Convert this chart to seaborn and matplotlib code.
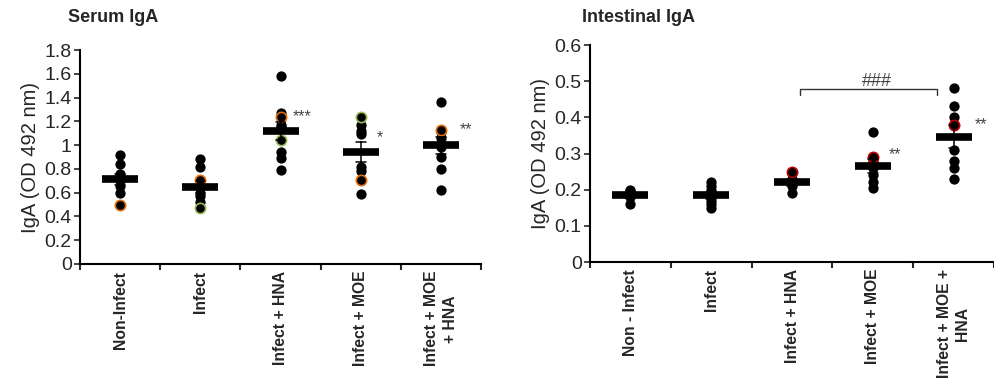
import numpy as np
import pandas as pd
import matplotlib
matplotlib.use("Agg")
import matplotlib.pyplot as plt
import seaborn as sns
from matplotlib.ticker import FuncFormatter, FixedLocator

sns.set_style("ticks")
plt.rcParams["font.family"] = ["Liberation Sans", "DejaVu Sans"]

# ---------------- data ----------------
serum_groups = ["Non-Infect", "Infect", "Infect + HNA", "Infect + MOE", "Infect + MOE\n+ HNA"]
serum_values = [
    [0.92, 0.84, 0.76, 0.72, 0.70, 0.66, 0.60, 0.50],
    [0.88, 0.82, 0.71, 0.64, 0.60, 0.57, 0.52, 0.47],
    [1.58, 1.27, 1.24, 1.17, 1.15, 1.04, 0.94, 0.89, 0.79],
    [1.24, 1.17, 1.12, 1.09, 0.82, 0.78, 0.71, 0.59],
    [1.36, 1.13, 1.11, 1.06, 1.02, 0.98, 0.90, 0.80, 0.62],
]
serum_rings = [
    ["", "", "", "", "", "", "", "orange"],
    ["", "", "orange", "", "", "", "", "green"],
    ["", "", "orange", "", "", "green", "", "", ""],
    ["green", "", "", "", "", "", "orange", ""],
    ["", "orange", "", "", "", "", "", "", ""],
]
serum_stars = ["", "", "***", "*", "**"]
serum_star_y = [None, None, 1.24, 1.06, 1.13]

gut_groups = ["Non - Infect", "Infect", "Infect + HNA", "Infect + MOE", "Infect + MOE +\nHNA"]
gut_values = [
    [0.20, 0.195, 0.19, 0.18, 0.16],
    [0.22, 0.21, 0.20, 0.18, 0.17, 0.16, 0.15],
    [0.25, 0.23, 0.22, 0.21, 0.19],
    [0.36, 0.29, 0.28, 0.26, 0.24, 0.22, 0.205],
    [0.48, 0.43, 0.40, 0.38, 0.31, 0.28, 0.26, 0.23],
]
gut_rings = [
    ["", "", "", "", ""],
    ["", "", "", "", "", "", ""],
    ["red", "", "", "", ""],
    ["", "red", "", "", "", "", ""],
    ["", "", "", "red", "", "", "", ""],
]
gut_stars = ["", "", "", "**", "**"]
gut_star_y = [None, None, None, 0.298, 0.38]

# comparison bracket (intestinal): from group 2 to group 4, label ###
bracket_groups = (2, 4)
bracket_y = 0.479
bracket_label = "###"

ring_colors = {"orange": "#e46c0a", "green": "#9bbb59", "red": "#c00000"}


def make_df(groups, values, rings):
    rows = []
    for g, vals, rs in zip(groups, values, rings):
        for v, r in zip(vals, rs):
            rows.append({"group": g, "value": v, "ring": r})
    return pd.DataFrame(rows)


def draw_panel(ax, groups, values, rings, ymax, ystep, stars, star_y, star_dx):
    df = make_df(groups, values, rings)
    sns.stripplot(data=df, x="group", y="value", order=groups, jitter=False,
                  color="black", size=7.4, linewidth=0, ax=ax, zorder=2)
    for name, col in ring_colors.items():
        sub = df[df["ring"] == name]
        if len(sub):
            sns.stripplot(data=sub, x="group", y="value", order=groups, jitter=False,
                          color="black", edgecolor=col, size=7.4, linewidth=1.2,
                          ax=ax, zorder=3)
    sns.pointplot(data=df, x="group", y="value", order=groups, errorbar="se",
                  color="black", marker="_", markersize=26, markeredgewidth=5.5,
                  linestyle="none", capsize=0.12, err_kws={"linewidth": 1.1},
                  ax=ax, zorder=4)

    ax.set_xlim(-0.5, len(groups) - 0.5)
    ax.set_ylim(0, ymax)
    ax.set_yticks(np.arange(0, ymax + ystep / 2, ystep))
    ax.yaxis.set_major_formatter(FuncFormatter(lambda v, p: f"{round(v, 2):g}"))
    ax.tick_params(axis="y", labelsize=14, length=4, width=1.2, direction="out", pad=2)
    ax.tick_params(axis="x", which="major", length=0, pad=5)
    ax.xaxis.set_minor_locator(FixedLocator(np.arange(-0.5, len(groups), 1.0)))
    ax.tick_params(axis="x", which="minor", length=4, width=1.5, direction="out")
    ax.set_xticks(range(len(groups)))
    ax.set_xticklabels(groups, rotation=90, fontsize=11.3, fontweight="bold",
                       ha="center", va="top", multialignment="center")
    for lbl in ax.get_xticklabels():
        lbl.set_linespacing(1.3)
    ax.set_xlabel("")
    ax.set_ylabel("IgA (OD 492 nm)", fontsize=14.5, labelpad=3)
    for s in ["top", "right"]:
        ax.spines[s].set_visible(False)
    for s in ["left", "bottom"]:
        ax.spines[s].set_linewidth(1.5)
        ax.spines[s].set_color("black")

    for i, (st, sy) in enumerate(zip(stars, star_y)):
        if st:
            ax.text(i + star_dx[i], sy, st, fontsize=11.5, color="#444444",
                    ha="left", va="center")


fig = plt.figure(figsize=(9.94, 3.88), dpi=100)
ax1 = fig.add_axes([0.0805, 0.3196, 0.4035, 0.5515])
ax2 = fig.add_axes([0.5936, 0.3247, 0.4064, 0.5593])

draw_panel(ax1, serum_groups, serum_values, serum_rings, 1.8, 0.2,
           serum_stars, serum_star_y, [0, 0, 0.15, 0.2, 0.24])
draw_panel(ax2, gut_groups, gut_values, gut_rings, 0.6, 0.1,
           gut_stars, gut_star_y, [0, 0, 0, 0.2, 0.26])

# titles
fig.text(68 / 994, 1 - 18 / 388, "Serum IgA", fontsize=13, fontweight="bold",
         ha="left", va="center")
fig.text(582 / 994, 1 - 17 / 388, "Intestinal IgA", fontsize=13, fontweight="bold",
         ha="left", va="center")

# comparison bracket
x0 = bracket_groups[0] + 0.1
x1 = bracket_groups[1] - 0.2
ax2.plot([x0, x0, x1, x1], [bracket_y - 0.018, bracket_y, bracket_y, bracket_y - 0.018],
         color="#333333", linewidth=1.0, clip_on=False)
ax2.text((x0 + x1) / 2 + 0.1, bracket_y - 0.004, bracket_label, fontsize=13,
         color="#444444", ha="center", va="bottom")

fig.savefig("out.png", dpi=100)
